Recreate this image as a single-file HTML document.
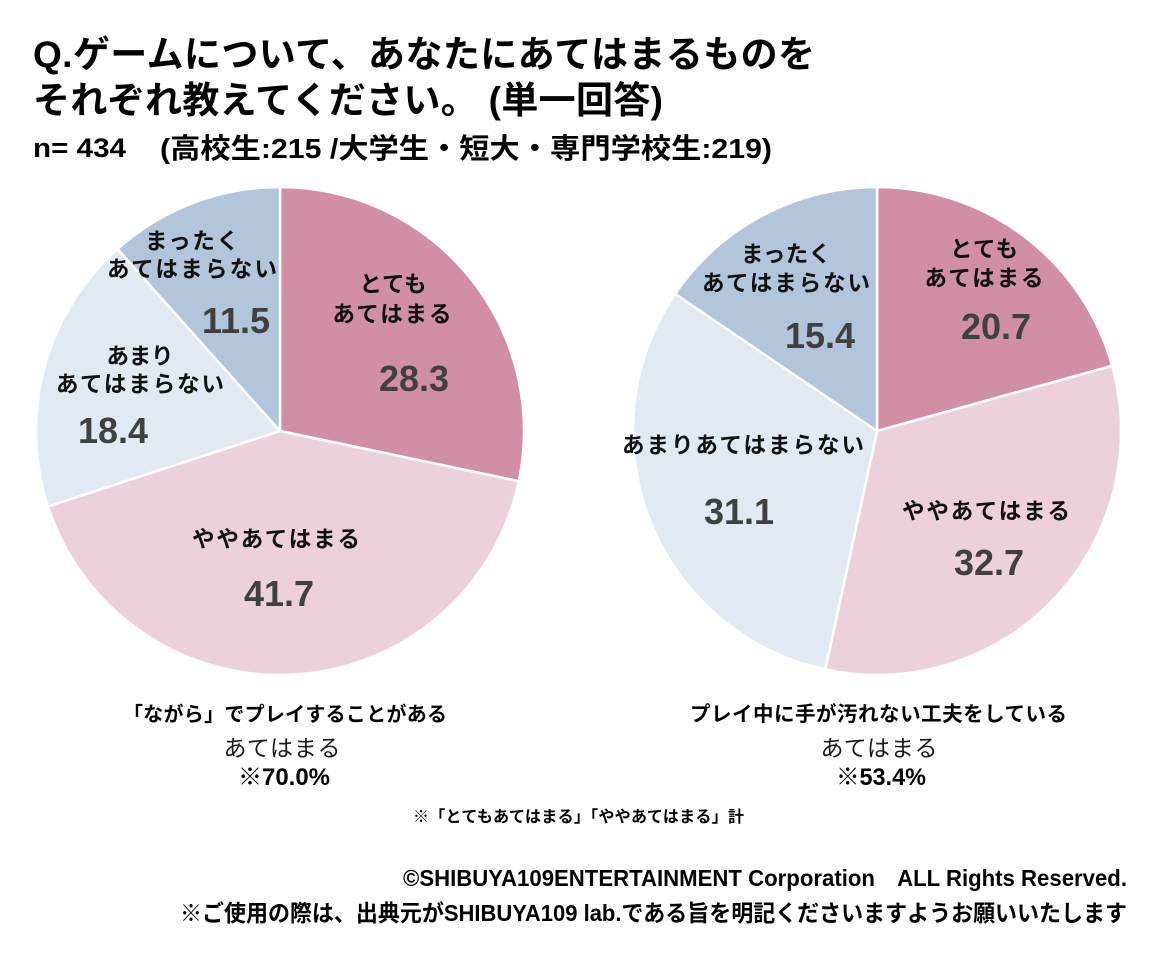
<!DOCTYPE html>
<html>
<head>
<meta charset="utf-8">
<style>
  html, body { margin: 0; padding: 0; background: #ffffff; }
  body { width: 1160px; height: 970px; overflow: hidden; }
  svg { display: block; }
  .t { font-family: "Liberation Sans", "Noto Sans CJK JP", sans-serif; font-weight: bold; fill: #000; }
  .lbl { font-family: "Liberation Sans", "Noto Sans CJK JP", sans-serif; font-weight: bold; font-size: 22.5px; fill: #111; }
  .num { font-family: "Liberation Sans", "Noto Sans CJK JP", sans-serif; font-weight: bold; font-size: 36px; fill: #404040; }
  .reg { font-family: "Liberation Sans", "Noto Sans CJK JP", sans-serif; font-weight: normal; fill: #1a1a1a; }
</style>
</head>
<body>
<svg width="1160" height="970" viewBox="0 0 1160 970" xmlns="http://www.w3.org/2000/svg">
  <rect width="1160" height="970" fill="#ffffff"/>

  <!-- Title -->
  <text class="t" x="33" y="67" font-size="37" textLength="782" lengthAdjust="spacing">Q.ゲームについて、あなたにあてはまるものを</text>
  <text class="t" x="33" y="113" font-size="37" textLength="630" lengthAdjust="spacing">それぞれ教えてください。 (単一回答)</text>
  <text class="t" x="33" y="157" font-size="27" textLength="93" lengthAdjust="spacingAndGlyphs">n= 434</text>
  <text class="t" x="160" y="158" font-size="28" textLength="612" lengthAdjust="spacingAndGlyphs">(高校生:215 /大学生・短大・専門学校生:219)</text>

  <!-- Left pie -->
  <g stroke="#ffffff" stroke-width="2.5" stroke-linejoin="round">
    <path d="M280,431 L280,187 A244,244 0 0,1 518.77,481.23 Z" fill="#D08FA4"/>
    <path d="M280,431 L518.77,481.23 A244,244 0 0,1 47.94,506.40 Z" fill="#ECD1DB"/>
    <path d="M280,431 L47.94,506.40 A244,244 0 0,1 117.53,248.96 Z" fill="#E3E9F3"/>
    <path d="M280,431 L117.53,248.96 A244,244 0 0,1 280,187 Z" fill="#B3C5DA"/>
  </g>
  <text class="lbl" x="192" y="249" text-anchor="middle" textLength="94" lengthAdjust="spacing">まったく</text>
  <text class="lbl" x="192" y="277" text-anchor="middle" textLength="170" lengthAdjust="spacing">あてはまらない</text>
  <text class="num" x="236" y="333" text-anchor="middle">11.5</text>

  <text class="lbl" x="393" y="292" text-anchor="middle" textLength="67" lengthAdjust="spacing">とても</text>
  <text class="lbl" x="392" y="322" text-anchor="middle" textLength="119" lengthAdjust="spacing">あてはまる</text>
  <text class="num" x="414" y="391" text-anchor="middle">28.3</text>

  <text class="lbl" x="140" y="364" text-anchor="middle" textLength="67" lengthAdjust="spacing">あまり</text>
  <text class="lbl" x="140" y="392" text-anchor="middle" textLength="168" lengthAdjust="spacing">あてはまらない</text>
  <text class="num" x="113" y="443" text-anchor="middle">18.4</text>

  <text class="lbl" x="276" y="547" text-anchor="middle" textLength="168" lengthAdjust="spacing">ややあてはまる</text>
  <text class="num" x="279" y="606" text-anchor="middle">41.7</text>

  <!-- Right pie -->
  <g stroke="#ffffff" stroke-width="2.5" stroke-linejoin="round">
    <path d="M877,431 L877,187 A244,244 0 0,1 1112.15,365.88 Z" fill="#D08FA4"/>
    <path d="M877,431 L1112.15,365.88 A244,244 0 0,1 825.27,669.45 Z" fill="#ECD1DB"/>
    <path d="M877,431 L825.27,669.45 A244,244 0 0,1 675.19,293.85 Z" fill="#E3E9F3"/>
    <path d="M877,431 L675.19,293.85 A244,244 0 0,1 877,187 Z" fill="#B3C5DA"/>
  </g>
  <text class="lbl" x="786" y="262" text-anchor="middle" textLength="90" lengthAdjust="spacing">まったく</text>
  <text class="lbl" x="786" y="291" text-anchor="middle" textLength="168" lengthAdjust="spacing">あてはまらない</text>
  <text class="num" x="820" y="348" text-anchor="middle">15.4</text>

  <text class="lbl" x="984" y="257" text-anchor="middle" textLength="68" lengthAdjust="spacing">とても</text>
  <text class="lbl" x="984" y="286" text-anchor="middle" textLength="119" lengthAdjust="spacing">あてはまる</text>
  <text class="num" x="996" y="339" text-anchor="middle">20.7</text>

  <text class="lbl" x="743" y="453" text-anchor="middle" textLength="242" lengthAdjust="spacing">あまりあてはまらない</text>
  <text class="num" x="739" y="524" text-anchor="middle">31.1</text>

  <text class="lbl" x="986" y="519" text-anchor="middle" textLength="168" lengthAdjust="spacing">ややあてはまる</text>
  <text class="num" x="989" y="575" text-anchor="middle">32.7</text>

  <!-- Captions -->
  <text class="t" x="123" y="721" font-size="20" textLength="324" lengthAdjust="spacing">「ながら」でプレイすることがある</text>
  <text class="reg" x="282" y="756" font-size="23" text-anchor="middle" textLength="117" lengthAdjust="spacing">あてはまる</text>
  <text class="t" x="284" y="785" font-size="24" text-anchor="middle" textLength="92" lengthAdjust="spacingAndGlyphs">※70.0%</text>

  <text class="t" x="690" y="721" font-size="20.5" textLength="377" lengthAdjust="spacing">プレイ中に手が汚れない工夫をしている</text>
  <text class="reg" x="879" y="756" font-size="23" text-anchor="middle" textLength="117" lengthAdjust="spacing">あてはまる</text>
  <text class="t" x="881" y="785" font-size="24" text-anchor="middle" textLength="90" lengthAdjust="spacingAndGlyphs">※53.4%</text>

  <text class="t" x="413" y="822" font-size="16" textLength="331" lengthAdjust="spacing">※「とてもあてはまる」「ややあてはまる」計</text>

  <!-- Footer -->
  <text class="t" x="403" y="886" font-size="23" textLength="724" lengthAdjust="spacingAndGlyphs">©SHIBUYA109ENTERTAINMENT Corporation　ALL Rights Reserved.</text>
  <text class="t" x="180" y="921" font-size="23" textLength="947" lengthAdjust="spacingAndGlyphs">※ご使用の際は、出典元がSHIBUYA109 lab.である旨を明記くださいますようお願いいたします</text>
</svg>
</body>
</html>
